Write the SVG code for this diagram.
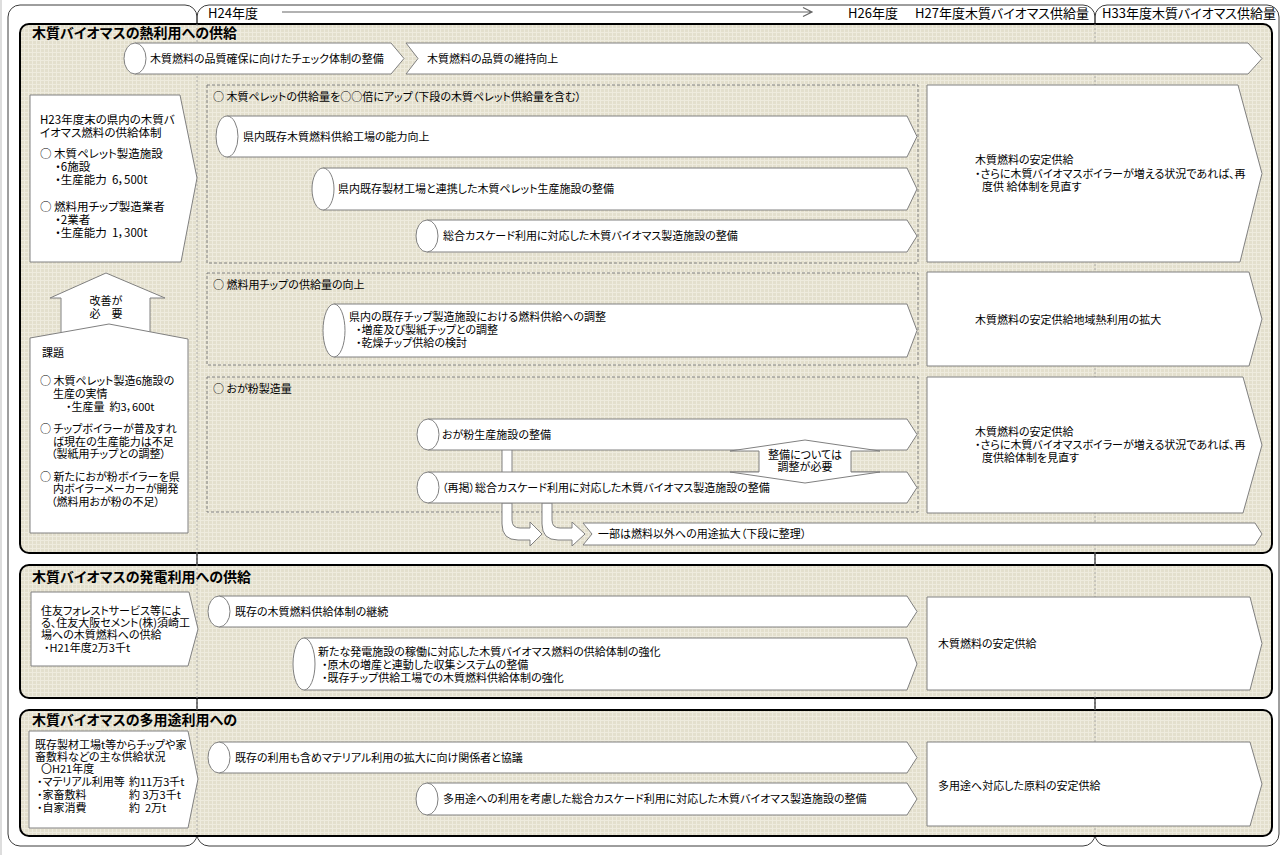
<svg xmlns="http://www.w3.org/2000/svg" width="1282" height="855" viewBox="0 0 1282 855">
<style>
.t{font-family:"Noto Sans CJK JP","Noto Sans",sans-serif;font-size:11px;fill:#000;font-feature-settings:"palt"}
.s{font-size:11.5px}
.h{font-size:14px;font-weight:700}
.hd{font-size:13px}
.m{text-anchor:middle}
.panel{fill:url(#grid);stroke:#000;stroke-width:2}
.frame{fill:none;stroke:#3c3c3c;stroke-width:1}
.box{fill:#fff;stroke:#808080;stroke-width:1}
.dash{fill:none;stroke:#808080;stroke-width:1;stroke-dasharray:3 2}
.col{stroke:#9a9a9a;stroke-width:0.8;stroke-dasharray:2 2}
.ln{fill:none;stroke:#666;stroke-width:1.2}
</style>
<defs>
<pattern id="grid" width="4" height="4" patternUnits="userSpaceOnUse">
<rect width="4" height="4" fill="#e3dfcd"/>
<path d="M0 0.5H4M0.5 0V4" stroke="#eeebde" stroke-width="1"/>
</pattern>
</defs>
<rect x="0" y="0" width="1282" height="855" fill="#fff"/>
<rect x="0" y="0" width="2" height="855" fill="#dddddd"/>
<g id="frames">
<rect class="frame" x="8" y="5" width="189" height="841" rx="12"/>
<rect class="frame" x="197" y="5" width="898" height="841" rx="12"/>
<rect class="frame" x="1095" y="5" width="184" height="841" rx="12"/>
</g>
<g id="header">
<text class="t hd" x="208" y="18">H24年度</text>
<text class="t hd" x="848" y="18">H26年度</text>
<text class="t hd" x="915" y="18">H27年度木質バイオマス供給量</text>
<text class="t hd" x="1102" y="18">H33年度木質バイオマス供給量</text>
</g>
<g id="panels">
<rect class="panel" x="20" y="24" width="1252" height="529" rx="9"/>
<rect class="panel" x="20" y="565" width="1252" height="133" rx="9"/>
<rect class="panel" x="20" y="710" width="1252" height="126" rx="9"/>
<text class="t h" x="32" y="38">木質バイオマスの熱利用への供給</text>
<text class="t h" x="32" y="582">木質バイオマスの発電利用への供給</text>
<text class="t h" x="32" y="725">木質バイオマスの多用途利用への</text>
</g>
<line class="col" x1="197" y1="24" x2="197" y2="836"/>
<line class="col" x1="1095" y1="24" x2="1095" y2="836"/>
<g id="groups">
<rect class="dash" x="207" y="85" width="711" height="178"/>
<text class="t" x="213" y="101">○ 木質ペレットの供給量を○○倍にアップ（下段の木質ペレット供給量を含む）</text>
<rect class="dash" x="207" y="273" width="711" height="92"/>
<text class="t" x="213" y="289">○ 燃料用チップの供給量の向上</text>
<rect class="dash" x="207" y="377" width="711" height="135"/>
<text class="t" x="213" y="393">○ おが粉製造量</text>
</g>
<g id="connectors">
<path class="ln" d="M282,12H812M803,7.5L812,12L803,16.5"/>
<path class="box" d="M106,273L165,298L150,298L150,334L61,334L61,298L50,298Z"/>
<text class="t m" x="106" y="305">改善が<tspan x="106" dy="13">必　要</tspan></text>
<path class="box" d="M502,449V473H512V449Z"/>
<path class="box" d="M502,503V524Q502,540 518,540H530V546L542,534L530,522V528H520Q512,528 512,520V503Z"/>
<path class="box" d="M542,503V524Q542,540 558,540H572V546L585,534L572,522V528H560Q552,528 552,520V503Z"/>
</g>
<g id="n-check">
<path class="box" d="M135,43H391L404,58.5L391,74H135Z"/>
<ellipse class="box" cx="135" cy="58.5" rx="11" ry="15.5"/>
<text class="t" x="150" y="63">木質燃料の品質確保に向けたチェック体制の整備</text>
</g>
<g id="n-quality">
<path class="box" d="M406,43H1248L1262,58.5L1248,74H406L418,58.5Z"/>
<text class="t" x="427" y="63">木質燃料の品質の維持向上</text>
</g>
<g id="n-h23">
<path class="box" d="M30,95H180L197,178L181,262H30Z"/>
<text class="t s" x="40" y="124" xml:space="preserve">H23年度末の県内の木質バ<tspan x="40" dy="13">イオマス燃料の供給体制</tspan><tspan x="40" dy="21">○ 木質ペレット製造施設</tspan><tspan x="55" dy="13">・6施設</tspan><tspan x="55" dy="13">・生産能力  6，500t</tspan><tspan x="40" dy="27">○ 燃料用チップ製造業者</tspan><tspan x="55" dy="13">・2業者</tspan><tspan x="55" dy="13">・生産能力  1，300t</tspan></text>
</g>
<g id="n-kadai">
<path class="box" d="M30,338L109,324L188,339V533H30Z"/>
<text class="t" x="42" y="357" xml:space="preserve">課題<tspan x="40" dy="28">○ 木質ペレット製造6施設の</tspan><tspan x="53" dy="13">生産の実情</tspan><tspan x="66" dy="13">・生産量  約3，600t</tspan><tspan x="40" dy="22">○ チップボイラーが普及すれ</tspan><tspan x="53" dy="12.5">ば現在の生産能力は不足</tspan><tspan x="51" dy="12.5">（製紙用チップとの調整）</tspan><tspan x="40" dy="22.5">○ 新たにおが粉ボイラーを県</tspan><tspan x="53" dy="12.5">内ボイラーメーカーが開発</tspan><tspan x="51" dy="12.5">（燃料用おが粉の不足）</tspan></text>
</g>
<g id="n-c1">
<path class="box" d="M227,116H907L917,136.5L907,157H227Z"/>
<ellipse class="box" cx="227" cy="136.5" rx="11" ry="20.5"/>
<text class="t" x="243" y="140.5">県内既存木質燃料供給工場の能力向上</text>
</g>
<g id="n-c2">
<path class="box" d="M323,168H907L917,189L907,210H323Z"/>
<ellipse class="box" cx="323" cy="189" rx="11" ry="21"/>
<text class="t" x="338" y="193">県内既存製材工場と連携した木質ペレット生産施設の整備</text>
</g>
<g id="n-c3">
<path class="box" d="M427,220H907L917,236L907,252H427Z"/>
<ellipse class="box" cx="427" cy="236" rx="11" ry="16"/>
<text class="t" x="443" y="240">総合カスケード利用に対応した木質バイオマス製造施設の整備</text>
</g>
<g id="n-c4">
<path class="box" d="M334,304H907L917,330.5L907,357H334Z"/>
<ellipse class="box" cx="334" cy="330.5" rx="11" ry="26.5"/>
<text class="t" x="349" y="321">県内の既存チップ製造施設における燃料供給への調整<tspan x="356" dy="13">・増産及び製紙チップとの調整</tspan><tspan x="356" dy="13">・乾燥チップ供給の検討</tspan></text>
</g>
<g id="n-c5">
<path class="box" d="M428,419H907L917,434.5L907,450H428Z"/>
<ellipse class="box" cx="428" cy="434.5" rx="11" ry="15.5"/>
<text class="t" x="442" y="439">おが粉生産施設の整備</text>
</g>
<g id="n-c6">
<path class="box" d="M428,472H907L917,487.5L907,503H428Z"/>
<ellipse class="box" cx="428" cy="487.5" rx="11" ry="15.5"/>
<text class="t" x="442" y="492">（再掲）総合カスケード利用に対応した木質バイオマス製造施設の整備</text>
</g>
<g id="n-adjust">
<path class="box" d="M805,440L880,451L851,451L851,472L880,472L805,483L730,472L759,472L759,451L730,451Z"/>
<text class="t m" x="805" y="459">整備については<tspan x="805" dy="12">調整が必要</tspan></text>
</g>
<g id="n-other">
<path class="box" d="M583,523H1255L1262,534L1255,545H583L592,534Z"/>
<text class="t" x="598" y="538">一部は燃料以外への用途拡大（下段に整理）</text>
</g>
<g id="n-r1">
<path class="box" d="M927,85H1238L1262,173.5L1240,262H927Z"/>
<text class="t" x="975" y="164">木質燃料の安定供給<tspan x="975" dy="14">・さらに木質バイオマスボイラーが増える状況であれば、再</tspan><tspan x="982" dy="13">度供 給体制を見直す</tspan></text>
</g>
<g id="n-r2">
<path class="box" d="M927,272H1249L1262,319L1249,366H927Z"/>
<text class="t" x="975" y="324">木質燃料の安定供給地域熱利用の拡大</text>
</g>
<g id="n-r3">
<path class="box" d="M927,377H1243L1262,445L1243,513H927Z"/>
<text class="t" x="975" y="436">木質燃料の安定供給<tspan x="975" dy="13">・さらに木質バイオマスボイラーが増える状況であれば、再</tspan><tspan x="982" dy="13">度供給体制を見直す</tspan></text>
</g>
<g id="n-sumitomo">
<path class="box" d="M31,592H189L198,629L188,666H31Z"/>
<text class="t" x="41" y="615">住友フォレストサービス等によ<tspan x="41" dy="12">る、住友大阪セメント(株)須崎工</tspan><tspan x="41" dy="12">場への木質燃料への供給</tspan><tspan x="44" dy="13">・H21年度2万3千t</tspan></text>
</g>
<g id="n-c7">
<path class="box" d="M219,596H907L917,611.5L907,627H219Z"/>
<ellipse class="box" cx="219" cy="611.5" rx="11" ry="15.5"/>
<text class="t" x="235" y="616">既存の木質燃料供給体制の継続</text>
</g>
<g id="n-c8">
<path class="box" d="M304,638H907L917,664L907,690H304Z"/>
<ellipse class="box" cx="304" cy="664" rx="11" ry="26"/>
<text class="t" x="318" y="656">新たな発電施設の稼働に対応した木質バイオマス燃料の供給体制の強化<tspan x="322" dy="13">・原木の増産と連動した収集システムの整備</tspan><tspan x="322" dy="13">・既存チップ供給工場での木質燃料供給体制の強化</tspan></text>
</g>
<g id="n-r4">
<path class="box" d="M927,597H1250L1262,643.5L1250,690H927Z"/>
<text class="t" x="938" y="648">木質燃料の安定供給</text>
</g>
<g id="n-material">
<path class="box" d="M29,731H188L198,779L188,828H29Z"/>
<text class="t" x="35" y="749" xml:space="preserve">既存製材工場t等からチップや家<tspan x="35" dy="12">畜敷料などの主な供給状況</tspan><tspan x="41" dy="12">〇H21年度</tspan><tspan x="37" dy="13">・マテリアル利用等</tspan><tspan x="129">約11万3千t</tspan><tspan x="37" dy="13">・家畜敷料</tspan><tspan x="129">約 3万3千t</tspan><tspan x="37" dy="12.5">・自家消費</tspan><tspan x="129">約  2万t</tspan></text>
</g>
<g id="n-c9">
<path class="box" d="M219,742H907L917,757.5L907,773H219Z"/>
<ellipse class="box" cx="219" cy="757.5" rx="11" ry="15.5"/>
<text class="t" x="235" y="762">既存の利用も含めマテリアル利用の拡大に向け関係者と協議</text>
</g>
<g id="n-c10">
<path class="box" d="M427,783H907L917,799L907,815H427Z"/>
<ellipse class="box" cx="427" cy="799" rx="11" ry="16"/>
<text class="t" x="443" y="803">多用途への利用を考慮した総合カスケード利用に対応した木質バイオマス製造施設の整備</text>
</g>
<g id="n-r5">
<path class="box" d="M927,742H1250L1262,784L1250,826H927Z"/>
<text class="t" x="938" y="790">多用途へ対応した原料の安定供給</text>
</g>
</svg>
